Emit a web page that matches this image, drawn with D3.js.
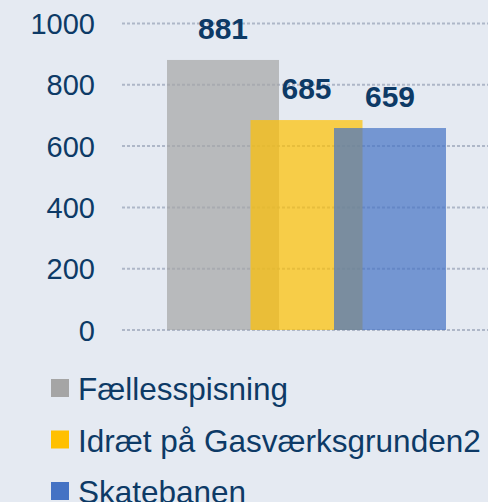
<!DOCTYPE html>
<html><head><meta charset="utf-8">
<script src="https://cdn.jsdelivr.net/npm/d3@7"></script>
<style>
html,body{margin:0;padding:0;background:#e5eaf2;}
svg{display:block;}
text{font-family:"Liberation Sans",Arial,sans-serif;}
</style></head>
<body>
<div id="chart"></div>
<script>
const series = ["Fællesspisning", "Idræt på Gasværksgrunden2", "Skatebanen"];
const values = [881, 685, 659];
const colors = ["#a5a5a5", "#ffc000", "#4472c4"];
const yTicks = [0, 200, 400, 600, 800, 1000];

const W = 488, H = 502;
const textColor = "#0d3a66";
const svg = d3.select("#chart").append("svg").attr("width", W).attr("height", H);
svg.append("rect").attr("width", W).attr("height", H).attr("fill", "#e5eaf2");

const y = d3.scaleLinear().domain([0, 1000]).range([330, 23.5]);
// bars overlap: each bar 112px wide, step 83.5px
const x = d3.scaleLinear().domain([0, 1]).range([167, 250.5]);
const barW = 112;

// gridlines
svg.append("g").selectAll("line").data(yTicks).join("line")
  .attr("x1", 122).attr("x2", W)
  .attr("y1", d => y(d)).attr("y2", d => y(d))
  .attr("stroke", "#aeb7c8").attr("stroke-width", 2)
  .attr("stroke-dasharray", "3,2");

// y axis labels
const yAxis = d3.axisLeft(y).tickValues(yTicks).tickFormat(d3.format("d")).tickSize(0).tickPadding(0);
const ga = svg.append("g").attr("transform", "translate(95,0)").call(yAxis);
ga.select(".domain").remove();
ga.selectAll("text").attr("fill", textColor).attr("font-size", 29)
  .attr("font-family", "'Liberation Sans',Arial,sans-serif").attr("dy", "0.35em");

// bars
svg.append("g").selectAll("rect").data(values).join("rect")
  .attr("x", (d, i) => x(i)).attr("width", barW)
  .attr("y", d => y(d)).attr("height", d => y(0) - y(d))
  .attr("fill", (d, i) => colors[i]).attr("fill-opacity", 0.7);

// value labels
svg.append("g").selectAll("text").data(values).join("text")
  .attr("x", (d, i) => x(i) + barW / 2).attr("y", d => y(d) - 21)
  .attr("text-anchor", "middle").attr("font-weight", "bold")
  .attr("font-size", 30).attr("fill", textColor).text(d => d);

// legend
const lg = svg.append("g").selectAll("g").data(series).join("g")
  .attr("transform", (d, i) => `translate(51,${379 + i * 51.5})`);
lg.append("rect").attr("width", 18).attr("height", 18).attr("fill", (d, i) => colors[i]);
lg.append("text").attr("x", 27).attr("y", 21).attr("font-size", 31.5)
  .attr("fill", textColor).text(d => d);
</script>
</body></html>
